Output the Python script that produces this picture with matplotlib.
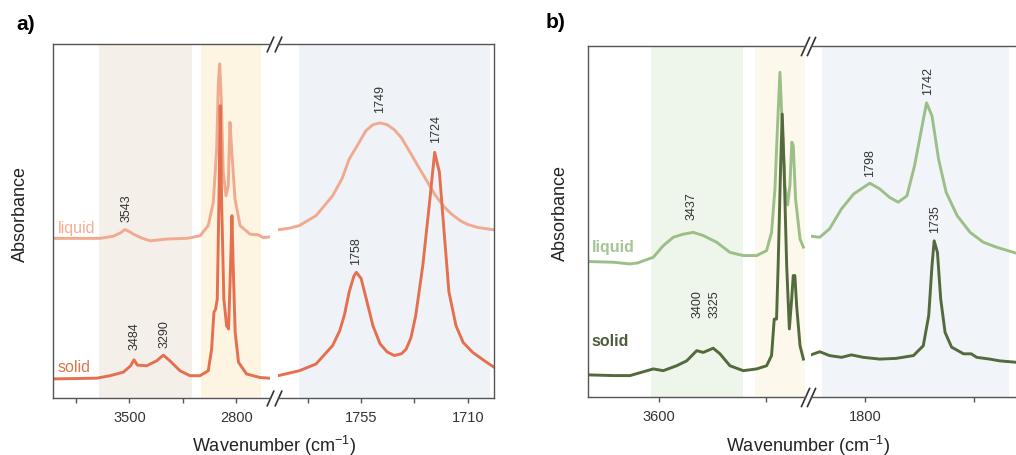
#! /usr/bin/env python3

import matplotlib
matplotlib.use("Agg")
import matplotlib.pyplot as plt

plt.rcParams["font.family"] = ["Liberation Sans", "DejaVu Sans"]

"""
Données lues sur la figure (nombre d'onde en cm-1, absorbance décalée).
"""

# a) haute fréquence
a_hi_liq_wn  = [3998, 3692, 3605, 3560, 3529, 3500, 3474, 3420, 3365, 3256,
                3125, 3038, 2984, 2951, 2929, 2918, 2909, 2899, 2886, 2868,
                2853, 2842, 2831, 2809, 2776, 2711, 2690, 2657, 2624, 2585]
a_hi_liq_abs = [0.451, 0.451, 0.457, 0.466, 0.476, 0.470, 0.463, 0.452, 0.444, 0.449,
                0.451, 0.458, 0.487, 0.553, 0.703, 0.892, 0.944, 0.845, 0.638, 0.571,
                0.600, 0.779, 0.703, 0.562, 0.487, 0.463, 0.462, 0.461, 0.453, 0.455]
a_hi_sol_wn  = [3998, 3714, 3627, 3540, 3492, 3470, 3448, 3387, 3322, 3278,
                3235, 3169, 3104, 3038, 2984, 2962, 2947, 2936, 2925, 2914,
                2906, 2897, 2882, 2864, 2851, 2838, 2829, 2821, 2808, 2786,
                2734, 2647, 2585]
a_hi_sol_abs = [0.054, 0.056, 0.063, 0.073, 0.091, 0.108, 0.093, 0.091, 0.105, 0.121,
                0.105, 0.077, 0.063, 0.063, 0.077, 0.138, 0.242, 0.251, 0.280, 0.562,
                0.826, 0.562, 0.280, 0.204, 0.195, 0.374, 0.515, 0.374, 0.186, 0.101,
                0.068, 0.058, 0.056]

# a) basse fréquence
a_lo_liq_wn  = [1790, 1785, 1781, 1774, 1767, 1763, 1760, 1756, 1753, 1750,
                1747, 1744, 1741, 1738, 1734, 1731, 1727, 1724, 1720, 1717,
                1713, 1710, 1706, 1699]
a_lo_liq_abs = [0.475, 0.480, 0.487, 0.515, 0.571, 0.620, 0.675, 0.720, 0.755, 0.772,
                0.777, 0.772, 0.758, 0.735, 0.690, 0.655, 0.610, 0.575, 0.540, 0.520,
                0.500, 0.490, 0.482, 0.475]
a_lo_sol_wn  = [1790, 1781, 1774, 1767, 1764, 1762, 1760, 1758, 1757, 1755,
                1753, 1750, 1747, 1744, 1741, 1738, 1736, 1734, 1732, 1729,
                1726, 1724, 1722, 1720, 1718, 1715, 1712, 1708, 1703, 1699]
a_lo_sol_abs = [0.063, 0.077, 0.096, 0.148, 0.190, 0.235, 0.300, 0.345, 0.355, 0.338,
                0.285, 0.204, 0.153, 0.130, 0.120, 0.125, 0.138, 0.170, 0.232, 0.374,
                0.562, 0.694, 0.638, 0.468, 0.300, 0.204, 0.157, 0.129, 0.105, 0.087]

# b) haute fréquence
b_hi_liq_wn  = [3998, 3858, 3764, 3720, 3689, 3633, 3577, 3521, 3464, 3408,
                3352, 3277, 3202, 3127, 3052, 2996, 2968, 2949, 2936, 2921,
                2908, 2893, 2878, 2865, 2854, 2846, 2833, 2808, 2789]
b_hi_liq_abs = [0.386, 0.384, 0.379, 0.382, 0.388, 0.398, 0.431, 0.455, 0.464, 0.469,
                0.460, 0.441, 0.412, 0.403, 0.403, 0.417, 0.469, 0.593, 0.754, 0.925,
                0.773, 0.602, 0.547, 0.602, 0.726, 0.716, 0.564, 0.450, 0.427]
b_hi_sol_wn  = [3998, 3858, 3764, 3633, 3577, 3502, 3445, 3389, 3352, 3296,
                3258, 3202, 3127, 3052, 2996, 2968, 2953, 2940, 2931, 2917,
                2908, 2898, 2883, 2868, 2855, 2846, 2837, 2827, 2808, 2789]
b_hi_sol_abs = [0.063, 0.061, 0.061, 0.080, 0.075, 0.089, 0.103, 0.132, 0.127, 0.139,
                0.123, 0.089, 0.075, 0.080, 0.089, 0.118, 0.222, 0.222, 0.374, 0.659,
                0.806, 0.659, 0.374, 0.194, 0.279, 0.346, 0.346, 0.260, 0.146, 0.108]

# b) basse fréquence
b_lo_liq_wn  = [1850, 1842, 1833, 1822, 1811, 1802, 1796, 1787, 1778, 1770,
                1762, 1755, 1748, 1744, 1739, 1733, 1726, 1716, 1704, 1692,
                1680, 1662, 1650]
b_lo_liq_abs = [0.458, 0.455, 0.479, 0.536, 0.578, 0.597, 0.609, 0.593, 0.569, 0.555,
                0.573, 0.659, 0.773, 0.838, 0.801, 0.678, 0.583, 0.517, 0.469, 0.441,
                0.427, 0.410, 0.405]
b_lo_sol_wn  = [1850, 1842, 1833, 1822, 1813, 1802, 1787, 1772, 1756, 1747,
                1742, 1739, 1737, 1734, 1731, 1727, 1721, 1710, 1703, 1698,
                1686, 1677, 1662, 1650]
b_lo_sol_abs = [0.120, 0.129, 0.118, 0.113, 0.120, 0.113, 0.108, 0.110, 0.118, 0.146,
                0.232, 0.374, 0.445, 0.412, 0.279, 0.184, 0.142, 0.123, 0.123, 0.113,
                0.108, 0.103, 0.099, 0.097]

# étiquettes des pics : texte, position, hauteur
a_hi_peaks   = ["3543", "3484", "3290"]
a_hi_peak_x  = [3520, 3464, 3267]
a_hi_peak_y  = [0.500, 0.138, 0.144]
a_lo_peaks   = ["1758", "1749", "1724"]
a_lo_peak_x  = [1757, 1747, 1723.6]
a_lo_peak_y  = [0.378, 0.808, 0.723]
b_hi_peaks   = ["3437", "3400", "3325"]
b_hi_peak_x  = [3416, 3382, 3286]
b_hi_peak_y  = [0.507, 0.228, 0.228]
b_lo_peaks   = ["1798", "1742", "1735"]
b_lo_peak_x  = [1796, 1743, 1736]
b_lo_peak_y  = [0.630, 0.863, 0.470]

# graduations
a_hi_ticks  = [3850, 3500, 3150, 2800]
a_hi_labels = ["", "3500", "", "2800"]
a_lo_ticks  = [1777.5, 1755, 1732.5, 1710]
a_lo_labels = ["", "1755", "", "1710"]
b_hi_ticks  = [3600, 3000]
b_hi_labels = ["3600", ""]
b_lo_ticks  = [1800, 1700]
b_lo_labels = ["1800", ""]

# zones colorées (début, fin, couleur)
a_hi_bands = [(3700, 3090, "#f5efea"), (3030, 2640, "#fef4e2")]
a_lo_bands = [(1781, 1700.5, "#eff3f8")]
b_hi_bands = [(3645, 3130, "#eef5ea"), (3060, 2770, "#fdf8ec")]
b_lo_bands = [(1840, 1668, "#f1f5f9")]

spine_col = "#555555"
text_col  = "#333333"

"""
Mise en page.
"""

def setup_axis(ax, xlim, ticks, labels, side):
    ax.set_xlim(*xlim)
    ax.set_ylim(0, 1)
    ax.set_xticks(ticks)
    ax.set_xticklabels(labels)
    ax.set_yticks([])
    ax.tick_params(axis="x", direction="out", length=3.5, width=1,
                   color=spine_col, labelcolor=text_col, labelsize=10.5, pad=5)
    for s in ax.spines.values():
        s.set_color(spine_col)
        s.set_linewidth(1)
    if side == "left":
        ax.spines["right"].set_visible(False)
    else:
        ax.spines["left"].set_visible(False)

def add_bands(ax, bands):
    for x0, x1, c in bands:
        ax.axvspan(x0, x1, color=c, lw=0, zorder=0)

def add_peaks(ax, names, xs, ys):
    for n, x, y in zip(names, xs, ys):
        ax.text(x, y, n, rotation=90, ha="center", va="bottom",
                fontsize=9, color=text_col)

def add_break(ax_l, ax_r, size):
    kw = dict(marker=[(-0.45, -1), (0.45, 1)], markersize=size, linestyle="none",
              color="#333333", mec="#333333", mew=1.2, clip_on=False)
    ax_l.plot([1, 1], [0, 1], transform=ax_l.transAxes, **kw)
    ax_r.plot([0, 0], [0, 1], transform=ax_r.transAxes, **kw)

def px(x0, x1, y0, y1):
    W, H = 1016, 456
    return [x0 / W, 1 - y1 / H, (x1 - x0) / W, (y1 - y0) / H]

xlabel = "Wavenumber (cm$^{\\mathregular{-1}}$)"

fig = plt.figure(figsize=(10.16, 4.56), dpi=100)

# ---- a)
ax1 = fig.add_axes(px(53, 270, 45, 399))
ax2 = fig.add_axes(px(278, 494, 45, 399))
a_liq, a_sol = "#f0aa90", "#e4704f"

add_bands(ax1, a_hi_bands)
add_bands(ax2, a_lo_bands)
ax1.plot(a_hi_liq_wn, a_hi_liq_abs, color=a_liq, lw=2.1)
ax1.plot(a_hi_sol_wn, a_hi_sol_abs, color=a_sol, lw=2.1)
ax2.plot(a_lo_liq_wn, a_lo_liq_abs, color=a_liq, lw=2.1)
ax2.plot(a_lo_sol_wn, a_lo_sol_abs, color=a_sol, lw=2.1)
setup_axis(ax1, (4000, 2580), a_hi_ticks, a_hi_labels, "left")
setup_axis(ax2, (1790, 1699), a_lo_ticks, a_lo_labels, "right")
add_peaks(ax1, a_hi_peaks, a_hi_peak_x, a_hi_peak_y)
add_peaks(ax2, a_lo_peaks, a_lo_peak_x, a_lo_peak_y)
add_break(ax1, ax2, 11.5)
ax1.text(3967, 0.483, "liquid", color="#f4ae92", fontsize=11.5, va="center")
ax1.text(3967, 0.088, "solid", color="#d9784a", fontsize=11.5, va="center")

fig.text(16 / 1016, 1 - 25 / 456, "a)", fontsize=15, fontweight="bold", va="center")
fig.text(273.5 / 1016, 1 - 452 / 456, xlabel, fontsize=13,
         ha="center", va="baseline", color="#222222")
fig.text(20 / 1016, 1 - 214 / 456, "Absorbance", fontsize=13, rotation=90,
         ha="center", va="center", color="#222222")

# ---- b)
ax3 = fig.add_axes(px(588, 805, 47, 398))
ax4 = fig.add_axes(px(811, 1029, 47, 398))
b_liq, b_sol = "#9cbf87", "#526a3c"

add_bands(ax3, b_hi_bands)
add_bands(ax4, b_lo_bands)
ax3.plot(b_hi_liq_wn, b_hi_liq_abs, color=b_liq, lw=2.1)
ax3.plot(b_hi_sol_wn, b_hi_sol_abs, color=b_sol, lw=2.1)
ax4.plot(b_lo_liq_wn, b_lo_liq_abs, color=b_liq, lw=2.1)
ax4.plot(b_lo_sol_wn, b_lo_sol_abs, color=b_sol, lw=2.1)
setup_axis(ax3, (4000, 2780), b_hi_ticks, b_hi_labels, "left")
setup_axis(ax4, (1850, 1650), b_lo_ticks, b_lo_labels, "right")
add_peaks(ax3, b_hi_peaks, b_hi_peak_x, b_hi_peak_y)
add_peaks(ax4, b_lo_peaks, b_lo_peak_x, b_lo_peak_y)
add_break(ax3, ax4, 14)
ax3.text(3978, 0.430, "liquid", color="#a5c594", fontsize=11.5,
         fontweight="bold", va="center")
ax3.text(3978, 0.162, "solid", color="#4e5e3c", fontsize=11.5,
         fontweight="bold", va="center")

fig.text(546 / 1016, 1 - 22 / 456, "b)", fontsize=15, fontweight="bold", va="center")
fig.text(808 / 1016, 1 - 452 / 456, xlabel, fontsize=13,
         ha="center", va="baseline", color="#222222")
fig.text(560 / 1016, 1 - 213 / 456, "Absorbance", fontsize=13, rotation=90,
         ha="center", va="center", color="#222222")

fig.savefig("out.png", dpi=100)
